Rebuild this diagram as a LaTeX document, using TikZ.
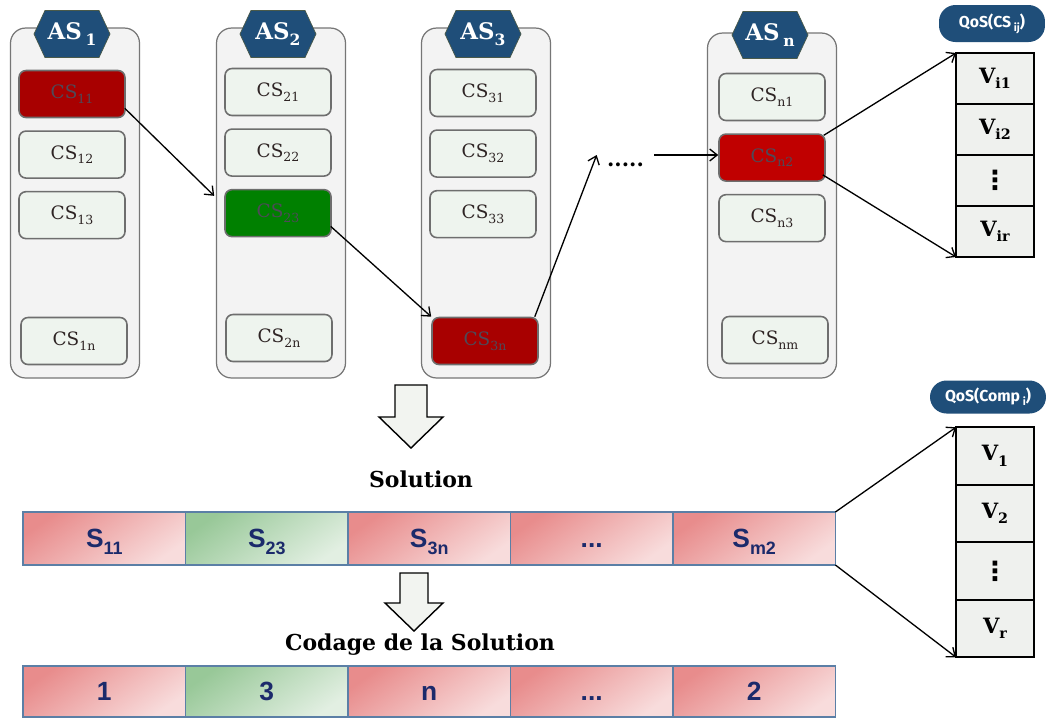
\documentclass[tikz,border=0pt]{standalone}
\usepackage{graphicx}
\usepackage{fontspec}
\setmainfont{DejaVu Serif}
\newfontfamily\barfont{Liberation Sans}
\newfontfamily\pillfont{Fira Sans}
\newfontfamily\symfont{DejaVu Sans}
\usetikzlibrary{arrows.meta, positioning, shapes.symbols, calc}
\definecolor{colfill}{HTML}{F3F3F3}
\definecolor{coledge}{HTML}{767676}
\definecolor{csfill}{HTML}{EEF4EE}
\definecolor{csedge}{HTML}{6E6E6E}
\definecolor{cstext}{HTML}{2E2424}
\definecolor{pickedtext}{HTML}{4E4A58}
\definecolor{redA}{HTML}{A80000}
\definecolor{redB}{HTML}{C00000}
\definecolor{greenA}{HTML}{008000}
\definecolor{asblue}{HTML}{1F4E79}
\definecolor{asedge}{HTML}{4A5A4A}
\definecolor{qfill}{HTML}{EFF1EE}
\definecolor{bardraw}{HTML}{5B7FA6}
\definecolor{pinkA}{HTML}{E88C8C}
\definecolor{pinkB}{HTML}{F8DCDC}
\definecolor{mintA}{HTML}{98C898}
\definecolor{mintB}{HTML}{E2EFE2}
\definecolor{navy}{HTML}{1B2A6B}
\definecolor{arrowfill}{HTML}{F2F4F0}
\newcommand{\lowidx}[1]{\raisebox{-0.5ex}{\scalebox{0.68}{#1}}}

\begin{document}
\begin{tikzpicture}[x=0.02cm, y=-0.02cm,
  node distance=0.24cm,
  column/.style={draw=coledge, fill=colfill, rounded corners=0.3cm, line width=0.7pt,
    minimum width=2.58cm, minimum height=7cm, inner sep=0pt},
  ashead/.style={signal, signal to=west and east, signal pointer angle=130, draw=asedge,
    line width=0.4pt, fill=asblue, text=white, minimum width=1.52cm, minimum height=0.94cm,
    inner sep=0pt, font=\bfseries\fontsize{13}{15}\selectfont},
  service/.style={draw=csedge, fill=csfill, line width=0.9pt, rounded corners=0.14cm,
    minimum width=2.12cm, minimum height=0.94cm, inner sep=0pt, text=cstext,
    font=\fontsize{10.5}{12}\selectfont},
  picked/.style={service, fill=#1, text=pickedtext},
  qospill/.style={fill=asblue, rounded corners=0.33cm, text=white, inner sep=0pt,
    font=\pillfont\bfseries\fontsize{9}{11}\selectfont},
  qcell/.style={draw=black, fill=qfill, line width=0.9pt, minimum width=1.56cm,
    minimum height=#1, inner sep=0pt, outer sep=0pt, font=\bfseries\fontsize{12}{14}\selectfont},
  gene/.style={draw=bardraw, line width=0.8pt, minimum width=3.25cm, inner sep=0pt,
    outer sep=0pt, text height=13pt, text depth=3pt, text=navy,
    font=\barfont\bfseries\fontsize{15}{17}\selectfont},
  redgene/.style={gene, top color=pinkA, bottom color=pinkB, shading angle=35},
  greengene/.style={gene, top color=mintA, bottom color=mintB, shading angle=35},
  caption/.style={font=\bfseries\fontsize{12.5}{15}\selectfont},
  link/.style={-{Straight Barb[length=1.5mm, width=2.4mm]}, line width=0.75pt},
  bigarrow/.style={draw=black, fill=arrowfill, line width=0.8pt, line join=miter},
]
  \path[fill=white, use as bounding box] (0,0) rectangle (1046,718);

  % abstract services
  \node[column] (col1) at (75,203) {};
  \node[column] (col2) at (281,203) {};
  \node[column] (col3) at (486,203) {};
  \node[column, minimum height=6.9cm] (coln) at (772,205.5) {};

  \node[ashead] (as1) at (72,34) {AS\,\lowidx{1}};
  \node[ashead] (as2) at (278,34) {AS\lowidx{2}};
  \node[ashead] (as3) at (483,34) {AS\lowidx{3}};
  \node[ashead] (asn) at (770,35) {AS\,\lowidx{n}};

  % concrete services
  \node[picked=redA] (cs11) at (72,94) {CS\lowidx{11}};
  \node[service, below=of cs11] (cs12) {CS\lowidx{12}};
  \node[service, below=of cs12] (cs13) {CS\lowidx{13}};
  \node[service] (cs1n) at (74,341) {CS\lowidx{1n}};

  \node[service] (cs21) at (278,92) {CS\lowidx{21}};
  \node[service, below=of cs21] (cs22) {CS\lowidx{22}};
  \node[picked=greenA, below=of cs22] (cs23) {CS\lowidx{23}};
  \node[service] (cs2n) at (279,338) {CS\lowidx{2n}};

  \node[service] (cs31) at (483,93) {CS\lowidx{31}};
  \node[service, below=of cs31] (cs32) {CS\lowidx{32}};
  \node[service, below=of cs32] (cs33) {CS\lowidx{33}};
  \node[picked=redA] (cs3n) at (485,341) {CS\lowidx{3n}};

  \node[service] (csn1) at (772,97) {CS\lowidx{n1}};
  \node[picked=redB, below=of csn1] (csn2) {CS\lowidx{n2}};
  \node[service, below=of csn2] (csn3) {CS\lowidx{n3}};
  \node[service] (csnm) at (775,340) {CS\lowidx{nm}};

  \node[minimum width=1.14cm, inner sep=0pt, text height=8pt, text depth=8pt,
    font=\bfseries\fontsize{12}{14}\selectfont] (dots) at (625.5,155) {\raisebox{-6.5pt}{.....}};

  % QoS of the chosen service
  \node[qospill, minimum width=2.12cm, minimum height=0.74cm] (qos1) at (992,23.5) {QoS(CS\,\lowidx{ij})};
  \node[qcell=1.02cm] (v1) at (995,78.5) {V\lowidx{i1}};
  \node[qcell=1.02cm, below=0pt of v1] (v2) {V\lowidx{i2}};
  \node[qcell=1.02cm, below=0pt of v2, font=\symfont\bfseries\fontsize{15}{15}\selectfont] (v3) {⋮};
  \node[qcell=1.02cm, below=0pt of v3] (v4) {V\lowidx{ir}};

  % QoS of the composition
  \node[qospill, minimum width=2.32cm, minimum height=0.66cm] (qos2) at (988,397) {QoS(Comp\,\lowidx{i})};
  \node[qcell=1.15cm] (w1) at (995,456) {V\lowidx{1}};
  \node[qcell=1.15cm, below=0pt of w1] (w2) {V\lowidx{2}};
  \node[qcell=1.15cm, below=0pt of w2, font=\symfont\bfseries\fontsize{15}{15}\selectfont] (w3) {⋮};
  \node[qcell=1.15cm, below=0pt of w3] (w4) {V\lowidx{r}};

  % solution
  \coordinate (down1) at (411,385);
  \draw[bigarrow] (down1) -- ++(16,0) -- ++(0,32) -- ++(16,0) -- ++(-32,31)
    -- ++(-32,-31) -- ++(16,0) -- ++(0,-32) -- cycle;
  \node[caption] (soltext) at (421,479) {Solution};

  \node[redgene, minimum height=1.06cm] (s1) at (104.3,538.5) {S\lowidx{11}};
  \node[greengene, minimum height=1.06cm, right=0pt of s1] (s2) {S\lowidx{23}};
  \node[redgene, minimum height=1.06cm, right=0pt of s2] (s3) {S\lowidx{3n}};
  \node[redgene, minimum height=1.06cm, right=0pt of s3] (s4) {...};
  \node[redgene, minimum height=1.06cm, right=0pt of s4] (s5) {S\lowidx{m2}};

  % encoding
  \coordinate (down2) at (414,573);
  \draw[bigarrow] (down2) -- ++(14,0) -- ++(0,30) -- ++(15,0) -- ++(-29,28)
    -- ++(-29,-28) -- ++(15,0) -- ++(0,-30) -- cycle;
  \node[caption] (codetext) at (420,645) {Codage de la Solution};

  \node[redgene, minimum height=1.02cm] (c1) at (104.3,691.5) {1};
  \node[greengene, minimum height=1.02cm, right=0pt of c1] (c2) {3};
  \node[redgene, minimum height=1.02cm, right=0pt of c2] (c3) {n};
  \node[redgene, minimum height=1.02cm, right=0pt of c3] (c4) {...};
  \node[redgene, minimum height=1.02cm, right=0pt of c4] (c5) {2};

  % selection path
  \draw[link] ($(cs11.south east)+(-1,-10)$) -- ($(cs23.north west)+(-10,7)$);
  \draw[link] ($(cs23.south east)+(-1,-11)$) -- (cs3n.north west);
  \draw[link] ($(cs3n.north east)+(-4,0)$) -- (dots.west);
  \draw[link] (dots.east) -- (dots.east -| csn2.west);
  \draw[link] ($(csn2.north east)+(-2,2)$) -- (v1.north west);
  \draw[link] ($(csn2.south east)+(-3,-7)$) -- (v4.south west);
  \draw[link] (s5.north east) -- (w1.north west);
  \draw[link] (s5.south east) -- (w4.south west);
\end{tikzpicture}
\end{document}
